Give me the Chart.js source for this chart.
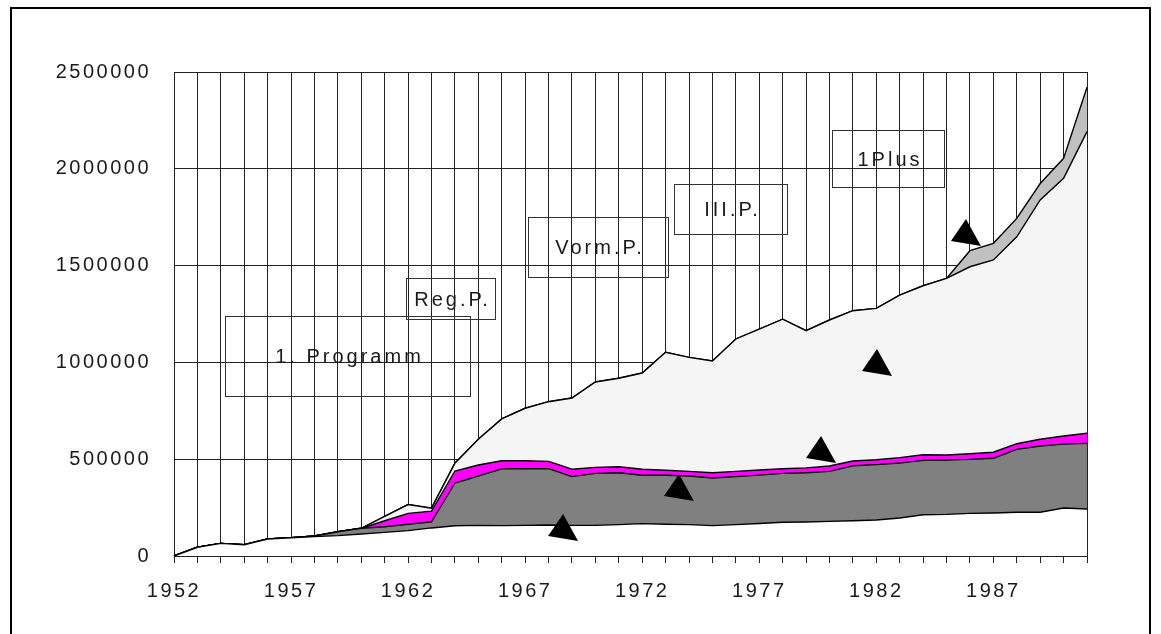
<!DOCTYPE html>
<html>
<head>
<meta charset="utf-8">
<script src="https://cdn.jsdelivr.net/npm/chart.js@4/dist/chart.umd.min.js"></script>
<style>
  body { margin: 0; background: #fff; }
  #frame { position: absolute; left: 10px; top: 7px; width: 1141px; height: 700px; border: 2px solid #000; box-sizing: border-box; }
  canvas { position: absolute; left: 0; top: 0; }
</style>
</head>
<body>
<div id="frame"></div>
<canvas id="chart" width="1161" height="634"></canvas>
<script>
// Jahre (Kategorien)
const years = ['1952','1953','1954','1955','1956','1957','1958','1959','1960','1961',
               '1962','1963','1964','1965','1966','1967','1968','1969','1970','1971',
               '1972','1973','1974','1975','1976','1977','1978','1979','1980','1981',
               '1982','1983','1984','1985','1986','1987','1988','1989','1990','1991'];
const shownYears = ['1952','1957','1962','1967','1972','1977','1982','1987'];
const yTicks = [0, 500000, 1000000, 1500000, 2000000, 2500000];

// Werte je Programm (gestapelt)
const programm1 = [0,45000,65000,58000,88000,94000,100000,105000,114000,122000,
                   131000,145000,156000,158000,157000,158000,160000,158000,158000,162000,
                   167000,164000,162000,157000,162000,168000,174000,176000,179000,182000,
                   186000,196000,213000,215000,220000,222000,226000,226000,248000,243000];
const regP = [0,0,0,0,0,0,3000,20000,29000,29000,
              33000,31000,221000,255000,293000,293000,291000,252000,269000,268000,
              250000,253000,251000,246000,248000,250000,253000,254000,258000,284000,
              286000,284000,281000,281000,279000,283000,325000,342000,330000,339000];
const vormP = [0,0,0,0,0,0,0,0,0,31000,
               56000,56000,62000,57000,42000,41000,38000,38000,31000,31000,
               31000,26000,24000,27000,27000,26000,24000,25000,28000,25000,
               25000,28000,29000,26000,29000,31000,29000,35000,42000,52000];
const iiiP = [0,0,0,0,0,0,0,0,0,23000,
              46000,15000,40000,133000,216000,271000,308000,368000,441000,457000,
              497000,609000,589000,577000,684000,728000,772000,709000,754000,776000,
              782000,840000,873000,912000,966000,993000,1069000,1236000,1331000,1558000];
const einsPlus = [0,0,0,0,0,0,0,0,0,0,
                  0,0,0,0,0,0,0,0,0,0,
                  0,0,0,0,0,0,0,0,0,0,
                  0,0,0,0,83000,86000,95000,85000,103000,229000];

// Beschriftungskästen und Pfeile (in Achsenkoordinaten: Jahr-Index, Wert)
const labelBoxes = [
  { text: '1. Programm', x0: 2.18, x1: 12.64, y0: 1241000, y1: 828000 },
  { text: 'Reg.P.',      x0: 9.90, x1: 13.71, y0: 1437500, y1: 1222600 },
  { text: 'Vorm.P.',     x0: 15.13, x1: 21.11, y0: 1749500, y1: 1442700 },
  { text: 'III.P.',      x0: 21.37, x1: 26.17, y0: 1920000, y1: 1663000 },
  { text: '1Plus',       x0: 28.09, x1: 32.90, y0: 2199000, y1: 1906000 }
];
const arrowTips = [
  [16.62, 217000], [21.57, 423500], [27.64, 620000], [30.03, 1069000], [33.83, 1740600]
];

const FAMILY = '"Liberation Sans", Arial, sans-serif';

const annotate = {
  id: 'annotate',
  beforeDraw(chart) {
    chart.ctx.letterSpacing = '2.5px';
  },
  afterDatasetsDraw(chart) {
    const { ctx } = chart;
    const x = chart.scales.x, y = chart.scales.y;
    ctx.save();
    ctx.fillStyle = '#000';
    arrowTips.forEach(([ix, v]) => {
      const px = x.getPixelForValue(ix), py = y.getPixelForValue(v);
      ctx.beginPath();
      ctx.moveTo(px, py);
      ctx.lineTo(px - 15, py + 22);
      ctx.lineTo(px + 15, py + 27);
      ctx.closePath();
      ctx.fill();
    });
    ctx.strokeStyle = '#333';
    ctx.lineWidth = 1;
    ctx.font = '20px ' + FAMILY;
    ctx.letterSpacing = '3px';
    ctx.textAlign = 'center';
    ctx.textBaseline = 'middle';
    labelBoxes.forEach(b => {
      const l = Math.round(x.getPixelForValue(b.x0)) + 0.5;
      const r = Math.round(x.getPixelForValue(b.x1)) + 0.5;
      const t = Math.round(y.getPixelForValue(b.y0)) + 0.5;
      const bt = Math.round(y.getPixelForValue(b.y1)) + 0.5;
      ctx.strokeRect(l, t, r - l, bt - t);
      ctx.fillStyle = '#1a1a1a';
      ctx.fillText(b.text, (l + r) / 2 + 1.5, (t + bt) / 2 + 1);
    });
    ctx.restore();
  }
};

const border = '#000';
new Chart(document.getElementById('chart'), {
  type: 'line',
  data: {
    labels: years,
    datasets: [
      { label: '1. Programm', data: programm1, backgroundColor: '#ffffff', fill: 'origin' },
      { label: 'Reg.P.', data: regP, backgroundColor: '#808080', fill: '-1' },
      { label: 'Vorm.P.', data: vormP, backgroundColor: '#ff00ff', fill: '-1' },
      { label: 'III.P.', data: iiiP, backgroundColor: '#f5f5f5', fill: '-1' },
      { label: '1Plus', data: einsPlus, backgroundColor: '#c0c0c0', fill: '-1' }
    ].map(d => Object.assign(d, { borderColor: border, borderWidth: 1.4, pointRadius: 0, tension: 0 }))
  },
  options: {
    responsive: false,
    animation: false,
    layout: { padding: { top: 72, right: 74, left: 0, bottom: 0 } },
    plugins: { legend: { display: false }, tooltip: { enabled: false } },
    scales: {
      x: {
        offset: false,
        grid: { color: '#222', tickLength: 7 },
        border: { color: '#222' },
        ticks: {
          autoSkip: false, maxRotation: 0, minRotation: 0, padding: 16,
          color: '#1a1a1a', font: { family: FAMILY, size: 20 },
          callback: (v, i) => shownYears.includes(years[i]) ? years[i] : ''
        },
        afterFit: s => { s.height = 78; }
      },
      y: {
        stacked: true,
        min: 0, max: 2500000,
        afterBuildTicks: s => { s.ticks = yTicks.map(v => ({ value: v })); },
        grid: { color: '#222', drawTicks: false },
        border: { color: '#222' },
        ticks: {
          padding: 23,
          color: '#1a1a1a', font: { family: FAMILY, size: 20 },
          callback: v => String(v)
        },
        afterFit: s => { s.width = 174; }
      }
    }
  },
  plugins: [annotate]
});
</script>
</body>
</html>
